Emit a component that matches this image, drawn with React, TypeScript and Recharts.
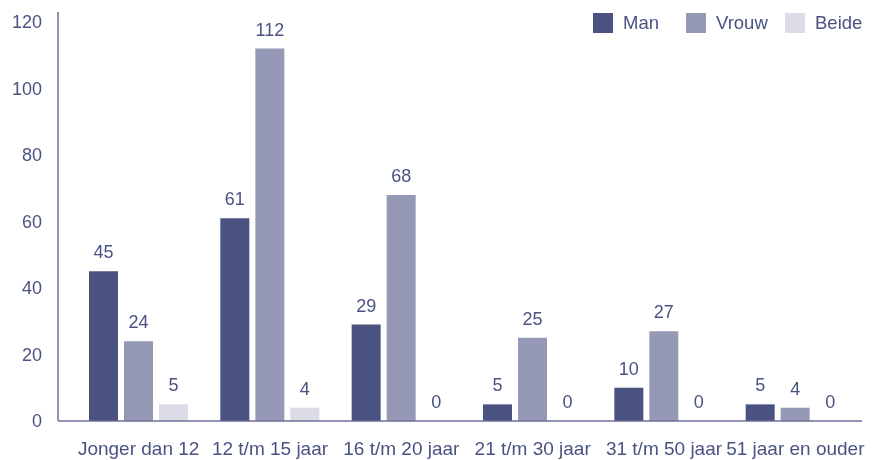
import { Bar, BarChart, LabelList, XAxis, YAxis } from 'recharts';

const categories = [
  'Jonger dan 12',
  '12 t/m 15 jaar',
  '16 t/m 20 jaar',
  '21 t/m 30 jaar',
  '31 t/m 50 jaar',
  '51 jaar en ouder',
];
const man = [45, 61, 29, 5, 10, 5];
const vrouw = [24, 112, 68, 25, 27, 4];
const beide = [5, 4, 0, 0, 0, 0];
const yTicks = [0, 20, 40, 60, 80, 100, 120];

const series = [
  { key: 'man', name: 'Man', color: '#4a5282' },
  { key: 'vrouw', name: 'Vrouw', color: '#9599b5' },
  { key: 'beide', name: 'Beide', color: '#dbdce6' },
];

const data = categories.map((name, i) => ({
  name,
  man: man[i],
  vrouw: vrouw[i],
  beide: beide[i],
}));

const textColor = '#4a5282';
const axisColor = '#6b7199';
const font = '"Liberation Sans", Arial, sans-serif';
// legend items are not evenly spaced in the original
const legendWidths = [93, 99, 80];

const App = () => {
  return (
    <div style={{ position: 'fixed', left: 0, top: 0, width: 879, height: 460, fontFamily: font }}>
      <BarChart
        width={879}
        height={460}
        data={data}
        margin={{ top: 12, right: 17, left: 0, bottom: 0 }}
        barSize={29}
        barGap={6}
      >
        <XAxis
          dataKey='name'
          height={39}
          padding={{ left: 15, right: 1 }}
          axisLine={{ stroke: axisColor, strokeWidth: 1.5 }}
          tickLine={false}
          tickSize={0}
          tickMargin={21}
          interval={0}
          tick={{ fill: textColor, fontSize: 19, fontFamily: font }}
        />
        <YAxis
          width={58}
          domain={[0, 123]}
          ticks={yTicks}
          interval={0}
          axisLine={{ stroke: axisColor, strokeWidth: 1.5 }}
          tickLine={false}
          tickSize={0}
          tickMargin={16}
          tick={{ fill: textColor, fontSize: 18, fontFamily: font }}
        />
        {series.map((s) => (
          <Bar
            key={s.key}
            dataKey={s.key}
            name={s.name}
            fill={s.color}
            minPointSize={0.01}
            isAnimationActive={false}
          >
            <LabelList
              dataKey={s.key}
              position='top'
              offset={13}
              fill={textColor}
              fontSize={18}
              fontFamily={font}
            />
          </Bar>
        ))}
      </BarChart>
      <div
        style={{
          position: 'absolute',
          top: 13,
          left: 593,
          display: 'flex',
          alignItems: 'center',
          fontSize: 18.5,
          color: textColor,
          lineHeight: '20px',
        }}
      >
        {series.map((s, i) => (
          <div key={s.key} style={{ display: 'flex', alignItems: 'center', width: legendWidths[i] }}>
            <span style={{ width: 20, height: 20, background: s.color, marginRight: 10 }} />
            <span>{s.name}</span>
          </div>
        ))}
      </div>
    </div>
  );
};

export default App;
